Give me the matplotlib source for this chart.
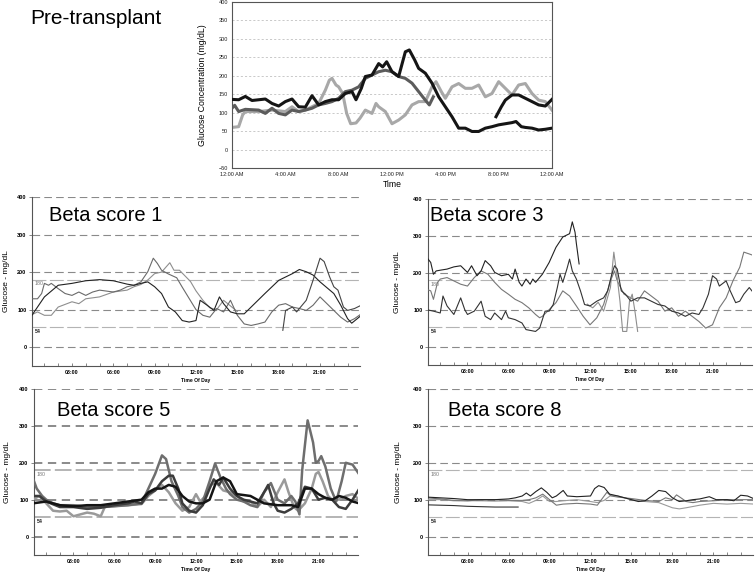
import matplotlib
matplotlib.use('Agg')
import matplotlib.pyplot as plt

plt.rcParams['font.family'] = ['Liberation Sans', 'DejaVu Sans']
plt.rcParams['lines.scale_dashes'] = False

W, H = 756, 575

# ---------------- pre-transplant (hours, mg/dL) ----------------
pre_k1_h = [0, 0.5, 1, 1.5, 2, 2.5, 3, 3.5, 4, 4.5, 5, 5.5, 6, 6.5, 7, 7.5, 8, 8.5, 9, 9.3,
            9.7, 10, 10.5, 11, 11.3, 11.6, 12, 12.5, 13, 13.3, 13.7, 14, 14.5, 15, 15.5, 16, 16.5, 17, 17.5, 18,
            18.5, 19, 19.5, 20, 20.5, 21, 21.3, 21.7, 22, 22.5, 23, 23.5, 24]
pre_k1_v = [136, 135, 144, 133, 135, 137, 125, 118, 130, 137, 116, 115, 146, 121, 130, 135, 135, 152, 157, 135,
            166, 198, 202, 233, 224, 238, 211, 198, 265, 270, 243, 220, 207, 180, 143, 116, 89, 58, 58, 49,
            49, 58, 62, 67, 70, 73, 76, 62, 60, 58, 53, 55, 58]
pre_k2_h = [19.8, 20.2, 20.5, 21, 21.5, 22, 22.5, 23, 23.5, 24]
pre_k2_v = [89, 116, 134, 148, 148, 139, 130, 121, 118, 136]
pre_dg_h = [0, 0.2, 0.5, 1, 1.5, 2, 2.5, 3, 3.5, 4, 4.5, 5, 5.5, 6, 6.5, 7, 7.5, 8, 8.5, 9,
            9.5, 10, 10.5, 11, 11.5, 12, 12.5, 13, 13.5, 14, 14.5, 14.8, 15.1]
pre_dg_v = [112, 120, 103, 109, 108, 107, 98, 112, 98, 94, 107, 103, 107, 112, 121, 125, 130, 139, 157, 161,
            170, 193, 202, 211, 215, 211, 198, 193, 180, 157, 134, 121, 143]
pre_lg_h = [0, 0.5, 0.8, 1, 2, 3, 4, 4.5, 5, 5.5, 6, 6.5, 7, 7.3, 7.5, 7.8, 8, 8.3, 8.6, 8.9,
            9.3, 9.6, 10, 10.5, 10.8, 11, 11.5, 12, 12.5, 13, 13.5, 14, 14.5, 15, 15.3, 15.7, 16, 16.5, 17, 17.5,
            18, 18.5, 19, 19.5, 20, 20.5, 21, 21.5, 22, 22.5, 23, 23.5, 24]
pre_lg_v = [60, 62, 94, 103, 103, 107, 103, 116, 103, 107, 116, 125, 161, 188, 193, 175, 170, 152, 98, 70,
            72, 85, 107, 98, 125, 116, 103, 70, 80, 94, 121, 130, 130, 170, 184, 157, 139, 170, 179, 166,
            166, 175, 143, 152, 184, 166, 148, 175, 179, 152, 134, 130, 107]
pre_xlabels = ['12:00 AM', '4:00 AM', '8:00 AM', '12:00 PM', '4:00 PM', '8:00 PM', '12:00 AM']

# ---------------- beta score 1 ----------------
b1_a_h = [0, 1, 2, 3, 4, 5, 6, 7, 7.5, 8, 8.5, 9, 9.5, 10, 10.5, 11, 11.5, 12, 12.3, 12.8,
          13.3, 13.7, 14, 14.5, 15, 15.5, 16, 17, 18, 19, 19.5, 20, 20.5, 21, 22, 22.5, 23, 23.3, 23.7, 24]
b1_a_v = [80, 134, 165, 170, 177, 180, 177, 168, 165, 170, 174, 161, 143, 107, 94, 71, 67, 71, 125, 112,
          98, 134, 116, 94, 89, 89, 107, 143, 178, 196, 207, 201, 192, 174, 143, 112, 76, 64, 76, 85]
b1_b_h = [0, 0.5, 0.8, 1, 1.3, 1.5, 2, 2.5, 3, 3.5, 4, 4.5, 5, 6, 6.5, 7, 7.5, 8, 8.5, 8.9,
          9.2, 9.5, 10, 10.3, 10.6, 11, 11.5, 12, 12.5, 13, 13.5, 14, 14.5, 15, 15.5, 16, 16.5, 17, 17.5, 18,
          18.5, 19, 19.5, 20, 20.5, 21, 21.5, 22, 22.5, 23, 23.5, 24]
b1_b_v = [129, 129, 143, 170, 165, 170, 156, 143, 138, 147, 138, 147, 152, 147, 152, 161, 165, 174, 201, 237,
          223, 205, 195, 190, 185, 160, 130, 100, 85, 80, 103, 94, 125, 85, 62, 58, 62, 67, 94, 112,
          116, 107, 103, 98, 112, 134, 116, 98, 80, 67, 76, 89]
b1_c_h = [0, 0.5, 1, 1.5, 2, 3, 3.5, 4, 5, 6, 7, 7.5, 8, 8.5, 9, 9.5, 10.1, 10.4, 10.8, 11.2,
          11.6, 12, 12.5, 13, 13.5, 14, 14.5, 15]
b1_c_v = [85, 94, 85, 85, 107, 121, 116, 129, 134, 147, 152, 161, 167, 179, 196, 200, 225, 205, 205, 190,
          175, 150, 125, 105, 100, 125, 110, 95]
b1_d_h = [18.3, 18.5, 19, 19.3, 19.5, 20, 20.5, 21, 21.3, 21.7, 22, 22.3, 22.7, 23, 23.5, 24]
b1_d_v = [45, 98, 107, 94, 103, 125, 179, 237, 228, 187, 161, 152, 107, 98, 103, 112]

# ---------------- beta score 3 ----------------
b3_a_h = [0, 0.3, 0.5, 0.7, 1, 1.5, 2, 2.5, 3, 3.3, 3.7, 4, 4.3, 4.7, 5, 5.5, 6, 6.3, 6.5, 6.8,
          7, 7.3, 7.6, 7.8, 8, 8.5, 9, 9.5, 10, 10.5, 10.7, 10.9, 11, 11.2]
b3_a_v = [242, 228, 196, 205, 207, 210, 216, 219, 201, 219, 192, 205, 233, 219, 201, 192, 196, 183, 210, 174,
          164, 183, 169, 183, 174, 196, 228, 269, 297, 306, 338, 310, 279, 224]
b3_b_h = [0, 0.3, 0.5, 0.8, 1, 1.5, 2, 2.5, 3, 3.5, 4, 4.5, 5, 5.5, 6, 6.5, 7, 7.5, 8, 8.3,
          8.5, 9, 9.5, 10, 10.5, 11, 11.5, 12, 12.5, 13, 13.5, 13.8, 14, 14.5, 15, 15.5, 16, 16.5, 17, 17.5,
          18, 18.5, 19, 19.5, 20, 20.5, 21, 21.5, 22, 22.5, 23, 23.3, 23.7, 24]
b3_b_v = [155, 151, 128, 174, 183, 187, 178, 169, 164, 187, 205, 196, 174, 155, 142, 128, 119, 105, 87, 78,
          82, 100, 119, 151, 137, 110, 82, 59, 78, 114, 178, 205, 178, 142, 132, 123, 151, 137, 123, 96,
          105, 82, 96, 82, 68, 50, 59, 105, 132, 178, 215, 256, 251, 247]
b3_c_h = [0, 0.5, 1, 1.2, 1.5, 2, 2.5, 2.8, 3, 3.5, 4, 4.3, 4.7, 5, 5.5, 5.8, 6, 6.5, 7, 7.3,
          8, 8.3, 8.7, 9, 9.3, 9.6, 9.8, 10, 10.3, 10.5, 10.7, 11, 11.3, 11.6, 12, 12.5, 13, 13.3, 13.6, 13.8,
          14, 14.3, 14.6, 15, 15.5, 16, 16.5, 17, 17.5, 18, 18.5, 19, 19.5, 20, 20.3, 20.7, 21, 21.3, 21.5, 22,
          22.3, 22.7, 23, 23.3, 23.7, 24]
b3_c_v = [100, 96, 91, 137, 110, 87, 132, 100, 87, 96, 123, 82, 73, 91, 73, 96, 78, 73, 64, 46,
          41, 50, 96, 96, 114, 160, 196, 174, 210, 237, 205, 183, 151, 114, 110, 123, 132, 151, 196, 219,
          210, 151, 142, 123, 132, 132, 123, 114, 110, 96, 91, 82, 91, 87, 105, 142, 192, 183, 164, 178,
          151, 119, 123, 142, 160, 146]
b3_d_h = [11.8, 12.2, 12.6, 13.0, 13.5, 13.75, 14.0, 14.2, 14.4, 14.7, 14.9, 15.1, 15.3, 15.5]
b3_d_v = [115, 105, 120, 96, 160, 256, 187, 123, 41, 41, 123, 142, 96, 41]

# ---------------- beta score 5 ----------------
b5_k_h = [0, 1, 2, 3, 4, 5, 6, 7, 8, 8.5, 9, 9.5, 10, 10.5, 11, 11.5, 12, 12.5, 13, 13.5,
          14, 14.5, 15, 16, 17, 18, 19, 19.5, 20, 20.5, 21, 21.5, 22, 22.5, 23, 23.5, 24]
b5_k_v = [90, 95, 85, 82, 85, 85, 90, 95, 100, 120, 130, 130, 140, 135, 110, 95, 90, 90, 100, 150,
          160, 150, 115, 110, 90, 85, 85, 80, 130, 130, 115, 105, 100, 110, 105, 95, 90]
b5_d_h = [0, 0.5, 1, 2, 3, 4, 5, 6, 7, 7.5, 8, 8.5, 9, 9.5, 10, 10.3, 10.7, 11, 11.5, 12,
          12.5, 13, 13.3, 13.7, 14, 14.5, 15, 15.5, 16, 16.5, 17, 17.3, 17.7, 18, 18.5, 19, 19.5, 20, 20.5, 21,
          21.5, 22, 22.5, 23, 23.5, 24]
b5_d_v = [110, 110, 95, 80, 80, 75, 78, 85, 90, 95, 90, 115, 125, 150, 165, 165, 130, 90, 70, 65,
          85, 130, 155, 140, 160, 130, 110, 100, 95, 90, 120, 140, 90, 70, 65, 75, 90, 135, 130, 100,
          105, 100, 80, 75, 100, 130]
b5_m_h = [0, 0.3, 0.7, 1, 1.5, 2, 2.5, 3, 4, 5, 6, 7, 8, 8.5, 9, 9.5, 9.8, 10.2, 10.7, 11,
          11.5, 12, 12.5, 13, 13.4, 13.8, 14.2, 14.5, 15, 15.5, 16, 16.5, 17, 17.5, 18, 18.5, 19, 19.3, 19.6, 19.8,
          20.2, 20.6, 20.8, 21.0, 21.2, 21.5, 21.9, 22.3, 22.7, 23, 23.5, 24]
b5_m_v = [160, 130, 110, 100, 90, 85, 85, 85, 80, 80, 82, 85, 90, 130, 170, 220, 210, 150, 110, 80,
          65, 75, 95, 150, 198, 160, 130, 115, 100, 95, 85, 80, 120, 145, 100, 90, 110, 95, 60, 180,
          315, 255, 200, 205, 218, 190, 130, 95, 150, 200, 195, 168]
b5_l_h = [0, 0.5, 1, 1.5, 2, 2.5, 3, 3.5, 4, 4.5, 5, 5.3, 6, 7, 8, 8.5, 9, 9.5, 10, 10.5,
          11, 11.5, 12, 12.3, 12.7, 13, 13.5, 14, 14.5, 15, 15.5, 16, 16.5, 17, 17.5, 18, 18.5, 18.8, 19.2, 19.5,
          20, 20.5, 20.8, 21, 21.3, 21.7, 22, 22.5, 23, 23.5, 24]
b5_l_v = [100, 110, 90, 70, 68, 70, 55, 60, 65, 62, 55, 80, 83, 85, 88, 110, 125, 140, 120, 90,
          70, 80, 115, 95, 110, 140, 145, 125, 120, 110, 95, 95, 80, 100, 80, 120, 155, 120, 80, 70,
          90, 130, 170, 175, 150, 110, 100, 100, 110, 115, 100]

# ---------------- beta score 8 ----------------
b8_k_h = [0, 1, 2, 3, 4, 5, 6, 6.5, 7, 7.3, 7.6, 8, 8.4, 8.8, 9.2, 9.5, 10, 10.3, 11, 12,
          12.3, 12.6, 13, 13.4, 14, 15, 15.5, 16, 16.5, 17, 17.5, 18, 18.5, 19, 19.5, 20, 20.7, 21.2, 22, 22.5,
          23, 23.5, 24]
b8_k_v = [107, 105, 103, 100, 100, 100, 102, 105, 110, 118, 110, 122, 132, 120, 105, 110, 125, 110, 108, 110,
          130, 138, 133, 115, 110, 100, 95, 97, 110, 125, 122, 105, 95, 97, 100, 102, 108, 100, 100, 97,
          112, 110, 102]
b8_d_h = [0, 1, 2, 3, 4, 5, 6, 6.7]
b8_d_v = [86, 85, 84, 82, 81, 80, 80, 80]
b8_m_h = [0, 1, 2, 3, 4, 5, 6, 7, 7.5, 8, 8.5, 9, 9.5, 10, 11, 12, 12.5, 12.8, 13.2, 13.5,
          14, 15, 16, 17, 17.5, 18, 18.3, 18.7, 19, 19.5, 20, 21, 22, 23, 24]
b8_m_v = [105, 102, 98, 97, 100, 100, 98, 98, 100, 105, 115, 100, 85, 88, 90, 88, 85, 100, 120, 110,
          107, 103, 98, 95, 105, 100, 113, 103, 95, 92, 95, 97, 100, 100, 100]
b8_l_h = [0, 1, 2, 3, 4, 5, 6, 7, 7.5, 8, 8.5, 9, 9.5, 10, 11, 12, 12.5, 13, 13.5, 14,
          15, 16, 17, 17.5, 18, 18.5, 19, 20, 21, 22, 23, 24]
b8_l_v = [100, 100, 97, 97, 97, 96, 97, 95, 90, 98, 110, 95, 95, 97, 100, 95, 92, 98, 112, 110,
          100, 95, 92, 85, 78, 75, 78, 85, 90, 88, 90, 88]

grid_levels = [0, 100, 200, 300, 400]
limit_levels = [54, 180]
day_ticks = [3, 6, 9, 12, 15, 18, 21]
day_labels = ['03:00', '06:00', '09:00', '12:00', '15:00', '18:00', '21:00']


def box(x0, y0, x1, y1):
    # pixel box (left, top, right, bottom) -> figure rect
    return [x0 / W, 1 - y1 / H, (x1 - x0) / W, (y1 - y0) / H]


fig = plt.figure(figsize=(W / 100, H / 100), dpi=100)

# ---- top panel ----
ax = fig.add_axes(box(232, 2, 552, 168))
for lev in range(0, 400, 50):
    ax.axhline(lev, color='#c0c0c0', lw=0.6, ls=(0, (1.5, 1.5)), zorder=1)
ax.plot(pre_lg_h, pre_lg_v, color='#a8a8a8', lw=2.2, zorder=2)
ax.plot(pre_dg_h, pre_dg_v, color='#5c5c5c', lw=2.2, zorder=3)
ax.plot(pre_k1_h, pre_k1_v, color='#151515', lw=2.2, zorder=4)
ax.plot(pre_k2_h, pre_k2_v, color='#151515', lw=2.2, zorder=4)
ax.set_xlim(0, 24)
ax.set_ylim(-50, 400)
ax.set_xticks(range(0, 25, 4))
ax.set_xticklabels(pre_xlabels)
ax.set_yticks(range(-50, 401, 50))
ax.tick_params(length=0, pad=3, labelsize=4, colors='#222222')
ax.set_ylabel('Glucose Concentration (mg/dL)', fontsize=6.3)
ax.yaxis.set_label_coords((207 - 232) / 320, 0.5)
ax.set_xlabel('Time', fontsize=6.2)
ax.xaxis.set_label_coords(0.5, -(180 - 168) / 166)
for s in ax.spines.values():
    s.set_color('#555555')
    s.set_linewidth(0.8)
fig.text(30 / W, 1 - 18 / H, 'Pre-transplant', fontsize=15, va='center')


def beta_panel(px, title, title_xy, traces, lw, glw, gdash, ldash, ylab_px):
    x0, y0, x1, y1 = px
    ax = fig.add_axes(box(x0, y0, x1, y1))
    for lev in grid_levels:
        ax.axhline(lev, color='#8a8a8a', lw=glw, ls=(0, gdash), zorder=1)
    for lev in limit_levels:
        ax.axhline(lev, color='#b4b4b4', lw=glw, ls=(0, ldash), zorder=1)
    ax.text(0.3, 176, '180', fontsize=3.8, color='#777777', va='top', zorder=2)
    ax.text(0.3, 48, '54', fontsize=3.8, color='#222222', fontweight='bold', va='top', zorder=2)
    for h, v, c in traces:
        ax.plot(h, v, color=c, lw=lw, zorder=3)
    ax.set_xlim(0.1, 23.9)
    ax.set_ylim(-50, 400)
    ax.set_xticks(day_ticks)
    ax.set_xticklabels(day_labels, fontweight='bold')
    ax.set_xticks(range(1, 24), minor=True)
    ax.set_yticks(grid_levels)
    ax.set_yticklabels([str(g) for g in grid_levels], fontweight='bold')
    ax.tick_params(axis='x', which='both', direction='in', length=2, width=0.5, pad=3,
                   labelsize=3.8, color='#555555')
    ax.tick_params(axis='y', length=2, width=0.5, pad=2, labelsize=4, color='#555555')
    ax.spines['top'].set_visible(False)
    ax.spines['right'].set_visible(False)
    for s in ['left', 'bottom']:
        ax.spines[s].set_color('#555555')
        ax.spines[s].set_linewidth(0.8)
    ax.set_ylabel('Glucose - mg/dL', fontsize=6)
    ax.yaxis.set_label_coords((ylab_px + 4 - x0) / (x1 - x0), 0.5)
    ax.set_xlabel('Time Of Day', fontsize=3.6, fontweight='bold')
    ax.xaxis.set_label_coords(0.5, -12 / (y1 - y0))
    fig.text(title_xy[0] / W, 1 - title_xy[1] / H, title, fontsize=14.5, va='center')
    return ax


thin_dash = (5.5, 3)
thin_limit = (10, 2.5)

beta_panel((32, 197, 360, 366), 'Beta score 1', (49, 216),
           [(b1_c_h, b1_c_v, '#8e8e8e'), (b1_b_h, b1_b_v, '#6a6a6a'),
            (b1_a_h, b1_a_v, '#222222'), (b1_d_h, b1_d_v, '#444444')],
           0.8, 0.8, thin_dash, thin_limit, 6)

beta_panel((428, 199, 752, 365), 'Beta score 3', (430, 215),
           [(b3_b_h, b3_b_v, '#777777'), (b3_d_h, b3_d_v, '#8e8e8e'),
            (b3_c_h, b3_c_v, '#333333'), (b3_a_h, b3_a_v, '#222222')],
           0.8, 0.8, thin_dash, thin_limit, 397)

beta_panel((34, 389, 358, 555), 'Beta score 5', (57, 410),
           [(b5_l_h, b5_l_v, '#9a9a9a'), (b5_m_h, b5_m_v, '#6e6e6e'),
            (b5_d_h, b5_d_v, '#3c3c3c'), (b5_k_h, b5_k_v, '#141414')],
           1.8, 1.4, (6, 4), (12, 3), 7)

beta_panel((428, 389, 753, 555), 'Beta score 8', (448, 410),
           [(b8_l_h, b8_l_v, '#9a9a9a'), (b8_m_h, b8_m_v, '#777777'),
            (b8_d_h, b8_d_v, '#333333'), (b8_k_h, b8_k_v, '#222222')],
           0.8, 0.8, thin_dash, thin_limit, 398)

fig.savefig('out.png', dpi=100)
